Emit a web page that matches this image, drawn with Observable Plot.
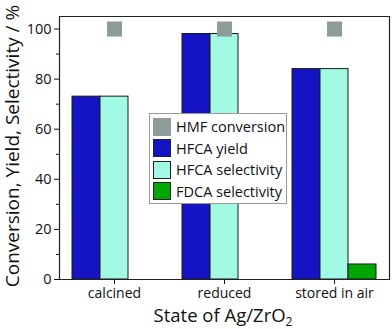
<!DOCTYPE html>
<html><head><meta charset="utf-8">
<script src="https://cdn.jsdelivr.net/npm/d3@7"></script>
<script src="https://cdn.jsdelivr.net/npm/@observablehq/plot@0.6"></script>
<style>
body{margin:0;background:#fff;font-family:"Open Sans",sans-serif}
#wrap{position:relative;width:392px;height:329px;overflow:hidden}
#legend{position:absolute;left:149px;top:113px;width:136px;height:87px;border:1px solid #999;background:#fff;padding-top:2px;box-sizing:content-box}
.item{display:flex;align-items:center;height:21.5px;font-size:14.5px;color:#111;white-space:nowrap}
.sw{width:18px;height:18px;margin:0 5px 0 3px;box-sizing:border-box}
</style></head><body><div id="wrap"></div>
<script>
const categories = ["calcined", "reduced", "stored in air"];
const hmfConversion = [100, 100, 100];
const hfcaYield = [73, 98, 84];
const hfcaSelectivity = [73, 98, 84];
const fdcaSelectivity = [0, 0, 6];
const seriesNames = ["HMF conversion", "HFCA yield", "HFCA selectivity", "FDCA selectivity"];
const seriesColors = ["#8d9b9b", "#1414c4", "#a2fae4", "#04a604"];
const yTicks = [0, 20, 40, 60, 80, 100];
const yMinorTicks = [10, 30, 50, 70, 90];
const xTitle = "State of Ag/ZrO";
const xTitleSub = "2";
const yTitle = "Conversion, Yield, Selectivity / %";

const bars = [];
categories.forEach((c, i) => {
  [[seriesNames[1], hfcaYield[i]], [seriesNames[2], hfcaSelectivity[i]], [seriesNames[3], fdcaSelectivity[i]]]
    .forEach(([s, v]) => { if (v > 0) bars.push({category: c, series: s, value: v}); });
});
const hmf = categories.map((c, i) => ({category: c, value: hmfConversion[i]}));

const plot = Plot.plot({
  width: 392, height: 329,
  marginLeft: 58, marginRight: 3, marginTop: 16, marginBottom: 50,
  style: {fontFamily: "'Open Sans', sans-serif", fontSize: "14px", color: "#111", background: "#fff"},
  fx: {domain: categories, padding: 0, label: null},
  x: {domain: seriesNames.slice(1), paddingInner: 0, paddingOuter: 0.4, axis: null},
  y: {domain: [0, 105], label: null},
  color: {domain: seriesNames, range: seriesColors},
  marks: [
    Plot.barY(bars, {fx: "category", x: "series", y: "value", fill: "series", stroke: "#1a1a1a", strokeWidth: 1}),
    Plot.dot(hmf, {fx: "category", y: "value", symbol: "square", r: 8.5, fill: seriesColors[0], stroke: "none"}),
    Plot.frame({anchor: "top", stroke: "#222", strokeWidth: 1.2}),
    Plot.frame({anchor: "bottom", stroke: "#222", strokeWidth: 1.2}),
    Plot.frame({anchor: "left", facetAnchor: "left", stroke: "#222", strokeWidth: 1.2}),
    Plot.frame({anchor: "right", facetAnchor: "right", stroke: "#222", strokeWidth: 1.2}),
    Plot.axisY({ticks: yTicks, tickSize: 5, tickPadding: 3, fontSize: 14.5, label: null}),
    Plot.axisY({ticks: yMinorTicks, tickSize: 3, text: null, label: null}),
    Plot.axisFx({anchor: "bottom", tickSize: 5, tickPadding: 4, fontSize: 14, label: null})
  ]
});
document.getElementById("wrap").appendChild(plot);

const svg = d3.select(plot.tagName === "svg" ? plot : plot.querySelector("svg"));
svg.append("text")
  .attr("transform", "translate(14,146) rotate(-90)")
  .attr("text-anchor", "middle").attr("dominant-baseline", "middle")
  .style("font-family", "'Open Sans', sans-serif").style("font-size", "19px").attr("fill", "#111")
  .text(yTitle);
const xt = svg.append("text")
  .attr("x", 223).attr("y", 322)
  .attr("text-anchor", "middle")
  .style("font-family", "'Open Sans', sans-serif").style("font-size", "18.5px").attr("fill", "#111");
xt.append("tspan").text(xTitle);
xt.append("tspan").attr("font-size", "12px").attr("dy", 4).text(xTitleSub);

const legend = d3.select("#wrap").append("div").attr("id", "legend");
seriesNames.forEach((s, i) => {
  const it = legend.append("div").attr("class", "item");
  it.append("div").attr("class", "sw")
    .style("background", seriesColors[i])
    .style("border", i === 0 ? "none" : "1px solid #222");
  it.append("span").text(s);
});
</script></body></html>
